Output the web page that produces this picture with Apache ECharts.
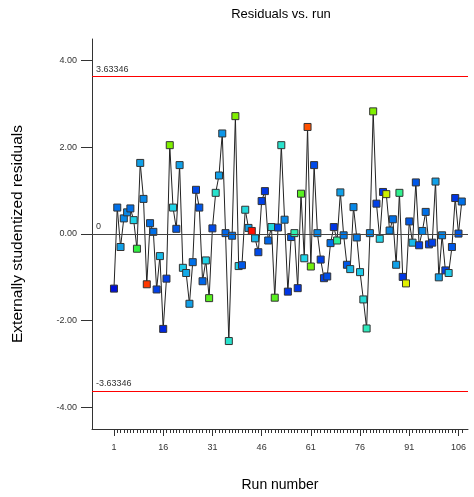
<!DOCTYPE html>
<html><head><meta charset="utf-8">
<script src="https://cdn.jsdelivr.net/npm/echarts@6/dist/echarts.min.js"></script>
<style>html,body{margin:0;padding:0;background:#fff}#c{width:474px;height:497px}</style>
</head><body><div id="c"></div>
<script>
const chartTitle = 'Residuals vs. run';
const xName = 'Run number';
const yName = 'Externally studentized residuals';
const residuals = [
  -1.26, 0.61, -0.30, 0.36, 0.50, 0.59, 0.32, -0.34, 1.64, 0.81,
  -1.16, 0.25, 0.05, -1.28, -0.51, -2.19, -1.03, 2.05, 0.61, 0.12,
  1.59, -0.78, -0.90, -1.61, -0.65, 1.02, 0.61, -1.09, -0.61, -1.48,
  0.13, 0.95, 1.35, 2.32, 0.02, -2.47, -0.04, 2.72, -0.74, -0.72,
  0.56, 0.14, 0.07, -0.10, -0.42, 0.76, 0.99, -0.15, 0.16, -1.47,
  0.15, 2.05, 0.33, -1.33, -0.07, 0.02, -1.25, 0.93, -0.56, 2.47,
  -0.75, 1.59, 0.02, -0.59, -1.02, -0.98, -0.21, 0.16, -0.15, 0.96,
  -0.03, -0.71, -0.81, 0.62, -0.08, -0.88, -1.51, -2.18, 0.02, 2.83,
  0.70, -0.11, 0.97, 0.92, 0.08, 0.34, -0.71, 0.95, -0.99, -1.14,
  0.29, -0.20, 1.19, -0.26, 0.07, 0.51, -0.24, -0.20, 1.21, -1.00,
  -0.03, -0.84, -0.90, -0.30, 0.83, 0.01, 0.75
];
// colour level of each point (0 = blue ... 10 = red)
const colorLevels = [
  0, 2, 3, 2.5, 2.5, 2, 4, 6, 3, 2.5,
  9.5, 2, 2, 1, 3.5, 0.5, 1, 7, 4, 1.5,
  3, 3.8, 3.2, 3, 2, 1.2, 1.5, 1.8, 4, 6.5,
  1.2, 4.5, 3, 2.8, 1.8, 4.5, 2, 7, 4, 1.5,
  4.2, 3, 10, 3.5, 1.2, 1, 0.8, 1.8, 4.2, 6.5,
  1.2, 4.5, 2.5, 0.8, 1.5, 5, 0.8, 6.5, 4, 9.2,
  6.8, 1.2, 2.5, 1, 1, 1.3, 2, 0.8, 5.2, 3,
  2.2, 1.5, 3.5, 2.5, 2.2, 3.8, 4.3, 4.8, 2.5, 7,
  1, 4, 0.8, 7.8, 2.5, 2, 3, 5.3, 0.8, 8,
  1.5, 3.5, 1.5, 1, 2.5, 2, 1, 1, 3, 3,
  2.5, 1, 3.8, 1.5, 0.8, 1.5, 2
];
const runs = residuals.map((_, i) => i + 1);
const xTickLabels = [1, 16, 31, 46, 61, 76, 91, 106];
const yTickLabels = [-4, -2, 0, 2, 4];
const limitLines = [3.63346, -3.63346];
const zeroLines = [0];

const palette = ['#0010d8','#0040e8','#0070e8','#10a0e8','#20d4e8','#30f0b0','#30f040','#80f000','#e0f000','#ff6000','#ff1000'];
function hex2rgb(h){return [parseInt(h.substr(1,2),16),parseInt(h.substr(3,2),16),parseInt(h.substr(5,2),16)];}
function colorFor(l){
  const i = Math.min(Math.floor(l), palette.length - 2), t = l - i;
  const a = hex2rgb(palette[i]), b = hex2rgb(palette[i+1]);
  return 'rgb(' + a.map((v,k)=>Math.round(v + (b[k]-v)*t)).join(',') + ')';
}
const FONT = 'Liberation Sans, Arial, sans-serif';
const chart = echarts.init(document.getElementById('c'), null, {renderer:'canvas'});
const xMin = -5.7, xMax = 108.9;
chart.setOption({
  animation: false,
  textStyle: {fontFamily: FONT},
  grid: {left: 92, right: 6, top: 39, bottom: 68},
  graphic: [{type:'text', x: 281, y: 14, style: {text: chartTitle, fontSize: 13, fontFamily: FONT, fill:'#000', align:'center', verticalAlign:'middle'}}],
  xAxis: [{
    type: 'value', min: xMin, max: xMax,
    name: xName, nameLocation: 'middle', nameGap: 49,
    nameTextStyle: {fontSize: 14, color: '#000', fontFamily: FONT},
    axisLine: {show: true, onZero: false, lineStyle: {color: '#333', width: 1}},
    axisTick: {show: true, customValues: xTickLabels, length: 7, lineStyle: {color: '#333'}},
    axisLabel: {customValues: xTickLabels, fontSize: 9, color: '#333', margin: 14, fontFamily: FONT},
    splitLine: {show: false}
  }, {
    type: 'value', min: xMin, max: xMax, position: 'bottom',
    axisLine: {show: false, onZero: false},
    axisTick: {show: true, customValues: runs, length: 4, lineStyle: {color: '#333'}},
    axisLabel: {show: false}, splitLine: {show: false}
  }],
  yAxis: {
    type: 'value', min: -4.5, max: 4.5,
    name: yName, nameLocation: 'middle', nameGap: 66,
    nameTextStyle: {fontSize: 15.5, color: '#000', fontFamily: FONT},
    axisLine: {show: true, onZero: false, lineStyle: {color: '#333', width: 1}},
    axisTick: {show: true, customValues: yTickLabels, length: 11, lineStyle: {color: '#333'}},
    axisLabel: {customValues: yTickLabels, formatter: v => Number(v).toFixed(2), fontSize: 9, color: '#333', margin: 15, fontFamily: FONT},
    splitLine: {show: false}
  },
  series: [{
    type: 'line', data: [], z: 1, silent: true,
    markLine: {
      silent: true, symbol: ['none','none'], animation: false, precision: 5,
      label: {position: 'insideStartTop', fontSize: 9, color: '#333', fontFamily: FONT, distance: [4, 3], formatter: '{b}'},
      data: limitLines.map(v => ({name: String(v), yAxis: v, lineStyle: {color: '#ff0000', width: 1, type: 'solid'}}))
        .concat(zeroLines.map(v => ({name: String(v), yAxis: v, lineStyle: {color: '#444', width: 1.2, type: 'solid'}})))
    }
  }, {
    type: 'line', z: 3,
    data: runs.map((r, i) => ({value: [r, residuals[i]], itemStyle: {color: colorFor(colorLevels[i])}})),
    symbol: 'rect', symbolSize: 7, showAllSymbol: true,
    lineStyle: {color: '#222', width: 1},
    itemStyle: {borderColor: '#333', borderWidth: 1},
    emphasis: {disabled: true}
  }]
});
</script></body></html>
